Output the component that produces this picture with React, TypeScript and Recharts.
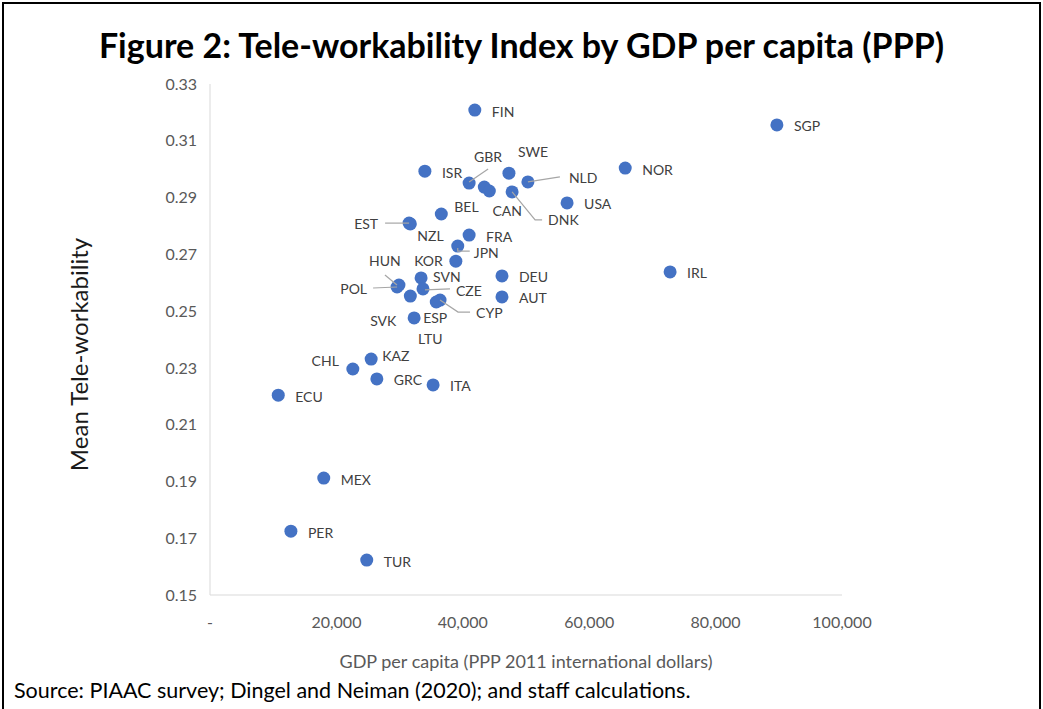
import React from 'react';
import { ScatterChart, Scatter, XAxis, YAxis, Label } from 'recharts';

// values
const countries = [
  'FIN', 'SGP', 'NOR', 'ISR', 'SWE', 'GBR', 'CAN', '', 'NLD', 'DNK',
  'USA', 'BEL', 'EST', 'NZL', 'FRA', 'JPN', 'KOR', 'DEU', 'IRL', 'SVN',
  'HUN', 'POL', 'CZE', 'SVK', 'CYP', 'LTU', 'AUT', 'ESP', 'KAZ', 'CHL',
  'GRC', 'ITA', 'ECU', 'MEX', 'PER', 'TUR',
];
const gdpPerCapita = [
  41900, 89700, 65700, 34000, 47300, 41000, 43400, 44200, 50300, 47800,
  56500, 36600, 31500, 31700, 41000, 39200, 38900, 46200, 72800, 33400,
  29900, 29600, 33700, 31700, 36400, 35800, 46200, 32300, 25500, 22600,
  26400, 35300, 10800, 18000, 12800, 24800,
];
const teleworkability = [
  0.3208, 0.3156, 0.3004, 0.2993, 0.2986, 0.2951, 0.2937, 0.2923, 0.2955, 0.2920,
  0.2881, 0.2842, 0.2810, 0.2807, 0.2768, 0.2729, 0.2676, 0.2624, 0.2638, 0.2617,
  0.2592, 0.2585, 0.2578, 0.2553, 0.2539, 0.2532, 0.2550, 0.2476, 0.2331, 0.2296,
  0.2261, 0.2240, 0.2204, 0.1912, 0.1725, 0.1623,
];

const xTicks = [0, 20000, 40000, 60000, 80000, 100000];
const yTicks = [0.15, 0.17, 0.19, 0.21, 0.23, 0.25, 0.27, 0.29, 0.31, 0.33];

const rows = countries.map((name, i) => ({ name, gdp: gdpPerCapita[i], tw: teleworkability[i] }));

// where each data label sits relative to its dot (px), plus leader lines
type Place = { dx: number; dy: number; anchor?: 'start' | 'middle' | 'end'; leader?: number[][] };
const defaultPlace: Place = { dx: 17, dy: 1 };
const labelPlace: Record<string, Place> = {
  SWE: { dx: 9, dy: -22 },
  GBR: { dx: 19, dy: -27, anchor: 'middle', leader: [[0, -1], [19, -14]] },
  NLD: { dx: 41, dy: -4, leader: [[0, 0], [32, -5]] },
  CAN: { dx: 23, dy: 23, anchor: 'middle' },
  DNK: { dx: 36, dy: 28, leader: [[0, 0], [23, 28], [30, 28]] },
  BEL: { dx: 13, dy: -8 },
  EST: { dx: -31, dy: 0, anchor: 'end', leader: [[-24, 0], [0, 0]] },
  NZL: { dx: 7, dy: 12 },
  JPN: { dx: 16, dy: 6, leader: [[0, 2], [0, 5], [12, 5]] },
  KOR: { dx: -13, dy: -1, anchor: 'end' },
  SVN: { dx: 12, dy: -1 },
  HUN: { dx: -14, dy: -24, anchor: 'middle', leader: [[-14, -10], [-2, 0]] },
  POL: { dx: -30, dy: 2, anchor: 'end', leader: [[-24, 1], [0, 0]] },
  CZE: { dx: 33, dy: 2, leader: [[2, 1], [27, 0]] },
  SVK: { dx: -14, dy: 24, anchor: 'end' },
  CYP: { dx: 36, dy: 12, leader: [[0, 0], [18, 12], [30, 12]] },
  LTU: { dx: -6, dy: 36, anchor: 'middle' },
  ESP: { dx: 9, dy: 0 },
  KAZ: { dx: 11, dy: -4 },
  CHL: { dx: -14, dy: -9, anchor: 'end' },
};

const font = 'Lato, "Open Sans", sans-serif';

const Dot = (props: any) => {
  const { cx, cy } = props;
  return <circle cx={cx} cy={cy} r={6.5} fill="#4472C4" />;
};

const DotLabel = (props: any) => {
  const { cx, cy, payload } = props;
  if (!payload.name) return <g />;
  const p = labelPlace[payload.name] || defaultPlace;
  return (
    <g>
      {p.leader && (
        <polyline
          points={p.leader.map(([a, b]) => `${cx + a},${cy + b}`).join(' ')}
          fill="none"
          stroke="#a6a6a6"
          strokeWidth={1.2}
        />
      )}
      <text
        x={cx + p.dx}
        y={cy + p.dy}
        textAnchor={p.anchor || 'start'}
        dominantBaseline="central"
        fontSize={14}
        fontFamily={font}
        fill="#404040"
      >
        {payload.name}
      </text>
    </g>
  );
};

const YTitle = (props: any) => {
  const { viewBox } = props;
  const x = viewBox.x + 18;
  const y = viewBox.y + viewBox.height / 2 + 15;
  return (
    <text
      x={x}
      y={y}
      transform={`rotate(-90 ${x} ${y})`}
      textAnchor="middle"
      dominantBaseline="central"
      fontSize={24}
      fontFamily={font}
      fill="#1a1a1a"
    >
      Mean Tele-workability
    </text>
  );
};

export default function App() {
  return (
    <div style={{ position: 'absolute', left: 0, top: 0, width: 1043, height: 709, background: '#fff', overflow: 'hidden' }}>
      <div
        style={{
          position: 'absolute', left: 2, top: 2, width: 1035, height: 720,
          border: '2px solid #000', borderBottom: 'none',
        }}
      />
      <div
        style={{
          position: 'absolute', left: 0, top: 25, width: 1043, textAlign: 'center', lineHeight: '40px',
          fontFamily: font, fontWeight: 700, fontSize: 34, color: '#000',
        }}
      >
        Figure 2: Tele-workability Index by GDP per capita (PPP)
      </div>
      <div style={{ position: 'absolute', left: 0, top: 0 }}>
        <ScatterChart width={1043} height={709} margin={{ top: 84, right: 201, bottom: 39, left: 60 }}>
          <XAxis
            type="number"
            dataKey="gdp"
            domain={[0, 100000]}
            ticks={xTicks}
            tickFormatter={(v: number) => (v === 0 ? '-' : v.toLocaleString('en-US'))}
            tickLine={false}
            tickMargin={16}
            axisLine={{ stroke: '#d9d9d9' }}
            tick={{ fill: '#595959', fontSize: 16, fontFamily: font }}
            height={75}
          >
            <Label
              value="GDP per capita (PPP 2011 international dollars)"
              position="insideBottom"
              offset={2}
              style={{ fill: '#595959', fontSize: 18, fontFamily: font }}
            />
          </XAxis>
          <YAxis
            type="number"
            dataKey="tw"
            domain={[0.15, 0.33]}
            ticks={yTicks}
            tickFormatter={(v: number) => v.toFixed(2)}
            tickLine={false}
            tickMargin={7}
            axisLine={{ stroke: '#d9d9d9' }}
            tick={{ fill: '#595959', fontSize: 16, fontFamily: font }}
            width={150}
            label={<YTitle />}
          />
          <Scatter data={rows} shape={<Dot />} isAnimationActive={false} />
          <Scatter data={rows} shape={<DotLabel />} isAnimationActive={false} />
        </ScatterChart>
      </div>
      <div
        style={{
          position: 'absolute', left: 14, top: 677, lineHeight: '26px', fontFamily: font, fontSize: 21.5, color: '#000', whiteSpace: 'nowrap',
        }}
      >
        Source: PIAAC survey; Dingel and Neiman (2020); and staff calculations.
      </div>
    </div>
  );
}
